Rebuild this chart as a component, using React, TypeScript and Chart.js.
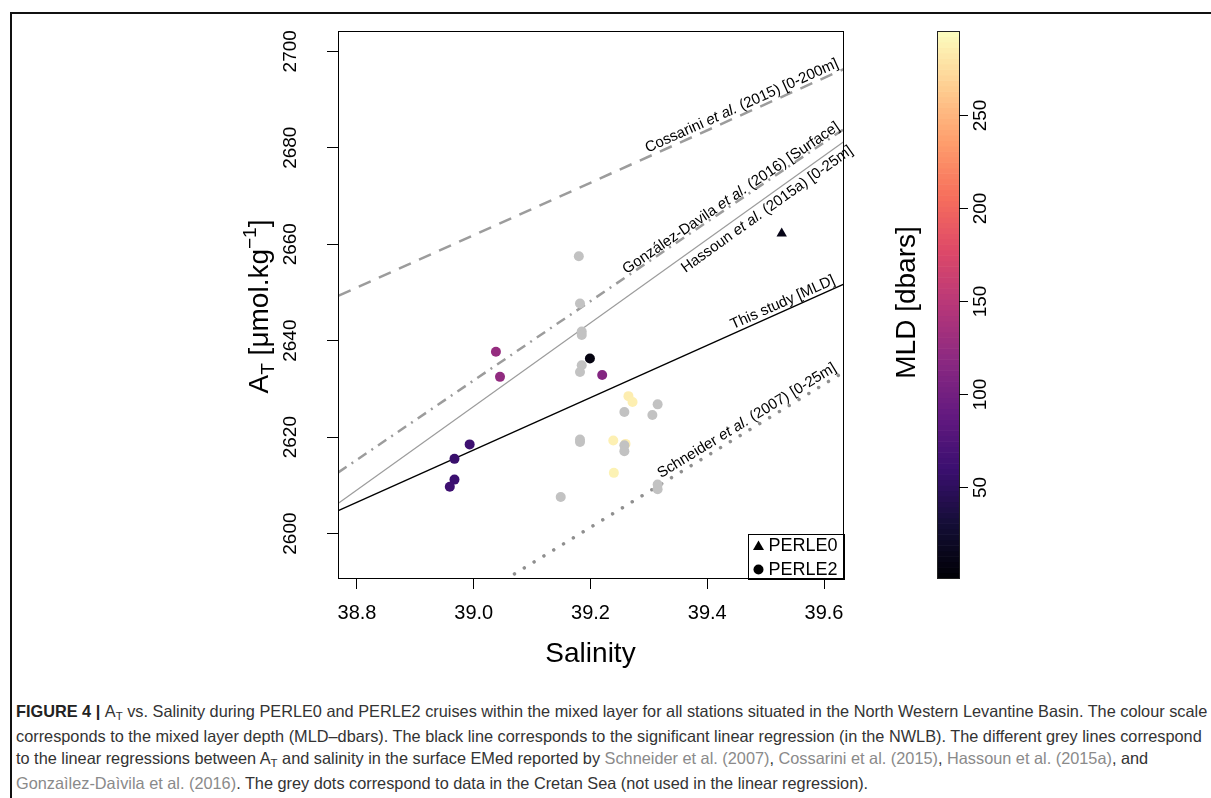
import React, { useEffect, useRef, useMemo } from "react";
import { Chart, registerables } from "chart.js";

Chart.register(...registerables);

// ---------------- data ----------------
const xTickValues = [38.8, 39.0, 39.2, 39.4, 39.6];
const yTickValues = [2600, 2620, 2640, 2660, 2680, 2700];
const mldTickValues = [50, 100, 150, 200, 250];
const xRange = [38.7675, 39.6325];
const yRange = [2590.8, 2704.2];
const mldRange = [1, 295];

// PERLE2 stations (NWLB), coloured by MLD
const perle2Salinity = [39.038, 39.045, 39.199, 39.22, 38.993, 38.967, 38.967, 38.959, 39.265, 39.272, 39.239, 39.26, 39.24];
const perle2AT = [2637.7, 2632.5, 2636.3, 2632.9, 2618.5, 2615.5, 2611.2, 2609.7, 2628.5, 2627.3, 2619.3, 2618.6, 2612.6];
const perle2MLD = [125, 122, 8, 112, 62, 58, 60, 62, 285, 286, 287, 285, 288];

// PERLE0 station
const perle0Salinity = [39.5275];
const perle0AT = [2662.2];
const perle0MLD = [12];

// Cretan Sea (grey dots)
const cretanSalinity = [39.18, 39.182, 39.185, 39.185, 39.185, 39.182, 39.258, 39.315, 39.306, 39.182, 39.182, 39.258, 39.258, 39.149, 39.315, 39.315];
const cretanAT = [2657.5, 2647.7, 2641.9, 2641.2, 2634.9, 2633.5, 2625.2, 2626.8, 2624.6, 2619.5, 2619.0, 2618.3, 2617.1, 2607.6, 2610.2, 2609.2];

// Regression lines (AT at the two salinity ends)
const lineSalinityEnds = [38.7, 39.7];
const cossariniAT = [2645.6, 2699.9];
const gonzalezAT = [2607.1, 2689.3];
const hassounAT = [2600.4, 2687.0];
const thisStudyAT = [2601.1, 2655.3];
const schneiderAT = [2564.2, 2638.4];

const legendLabels = ["PERLE0", "PERLE2"];

// ---------------- styles ----------------
const FONT = '"Liberation Sans", Arial, Helvetica, sans-serif';

const magmaStops = ["#000004", "#140E36", "#3B0F70", "#641A80", "#8C2981", "#B73779", "#DE4968", "#F7705C", "#FE9F6D", "#FECF92", "#FCFDBF"];
function hexRgb(h: string) {
  return [parseInt(h.slice(1, 3), 16), parseInt(h.slice(3, 5), 16), parseInt(h.slice(5, 7), 16)];
}
function magma(t: number) {
  t = Math.max(0, Math.min(1, t));
  const p = t * (magmaStops.length - 1);
  const i = Math.min(Math.floor(p), magmaStops.length - 2);
  const f = p - i;
  const a = hexRgb(magmaStops[i]);
  const b = hexRgb(magmaStops[i + 1]);
  const c = a.map((v, k) => Math.round(v + (b[k] - v) * f));
  return `rgb(${c[0]},${c[1]},${c[2]})`;
}
function mldColor(v: number) {
  return magma((v - mldRange[0]) / (mldRange[1] - mldRange[0]));
}

type Seg = [string, boolean];
const lineSpecs = [
  { at: cossariniAT, color: "#9c9c9c", width: 2.5, dash: [13, 9], cap: "butt",
    label: [["Cossarini ", false], ["et al.", true], [" (2015) [0-200m]", false]] as Seg[], anchorS: 39.629, off: 4 },
  { at: gonzalezAT, color: "#9c9c9c", width: 2.5, dash: [10, 6, 2, 6], cap: "butt",
    label: [["González-Davila ", false], ["et al.", true], [" (2016) [Surface]", false]] as Seg[], anchorS: 39.63, off: 2 },
  { at: hassounAT, color: "#9c9c9c", width: 1.2, dash: [], cap: "butt",
    label: [["Hassoun ", false], ["et al.", true], [" (2015a) [0-25m]", false]] as Seg[], anchorS: 39.636, off: -3 },
  { at: thisStudyAT, color: "#000000", width: 1.3, dash: [], cap: "butt",
    label: [["This study [MLD]", false]] as Seg[], anchorS: 39.623, off: 4 },
  { at: schneiderAT, color: "#8f8f8f", width: 3.5, dash: [0.01, 11.5], cap: "round",
    label: [["Schneider ", false], ["et al.", true], [" (2007) [0-25m]", false]] as Seg[], anchorS: 39.627, off: 5 },
];

// ---------------- plugin ----------------
const decorPlugin = {
  id: "decor",
  afterDatasetsDraw(chart: any) {
    const ctx: CanvasRenderingContext2D = chart.ctx;
    const ca = chart.chartArea;
    const xs = chart.scales.x;
    const ys = chart.scales.y;
    const cb = chart.scales.cb;
    ctx.save();

    // line labels
    const lblSize = 15;
    lineSpecs.forEach((ls) => {
      const p1x = xs.getPixelForValue(lineSalinityEnds[0]);
      const p1y = ys.getPixelForValue(ls.at[0]);
      const p2x = xs.getPixelForValue(lineSalinityEnds[1]);
      const p2y = ys.getPixelForValue(ls.at[1]);
      const ang = Math.atan2(p2y - p1y, p2x - p1x);
      const a = ls.at[0] + ((ls.at[1] - ls.at[0]) * (ls.anchorS - lineSalinityEnds[0])) / (lineSalinityEnds[1] - lineSalinityEnds[0]);
      const px = xs.getPixelForValue(ls.anchorS);
      const py = ys.getPixelForValue(a);
      ctx.save();
      ctx.translate(px, py);
      ctx.rotate(ang);
      let baseY: number;
      if (ls.off >= 0) {
        ctx.textBaseline = "alphabetic";
        baseY = -ls.off;
      } else {
        ctx.textBaseline = "top";
        baseY = -ls.off;
      }
      ctx.fillStyle = "#000";
      ctx.textAlign = "left";
      let total = 0;
      ls.label.forEach(([t, it]) => {
        ctx.font = `${it ? "italic " : ""}${lblSize}px ${FONT}`;
        total += ctx.measureText(t).width;
      });
      let x = -total;
      ls.label.forEach(([t, it]) => {
        ctx.font = `${it ? "italic " : ""}${lblSize}px ${FONT}`;
        ctx.fillText(t, x, baseY);
        x += ctx.measureText(t).width;
      });
      ctx.restore();
    });

    // plot box
    ctx.strokeStyle = "#000";
    ctx.lineWidth = 1;
    ctx.strokeRect(Math.round(ca.left) + 0.5, Math.round(ca.top) + 0.5, Math.round(ca.right - ca.left), Math.round(ca.bottom - ca.top));

    // y tick labels (parallel to axis)
    ctx.fillStyle = "#000";
    ctx.font = `19px ${FONT}`;
    ctx.textAlign = "center";
    ctx.textBaseline = "middle";
    yTickValues.forEach((v) => {
      const y = ys.getPixelForValue(v);
      ctx.save();
      ctx.translate(ca.left - 47, y);
      ctx.rotate(-Math.PI / 2);
      ctx.fillText(String(v), 0, 0);
      ctx.restore();
    });

    // x title
    ctx.font = `28px ${FONT}`;
    ctx.textAlign = "center";
    ctx.textBaseline = "middle";
    ctx.fillText("Salinity", (ca.left + ca.right) / 2, ca.bottom + 76);

    // y title: A_T [µmol.kg^-1]
    {
      const segs: { t: string; s: number; dy: number }[] = [
        { t: "A", s: 28, dy: 0 },
        { t: "T", s: 19, dy: 6 },
        { t: " [\u03BCmol.kg", s: 28, dy: 0 },
        { t: "\u22121", s: 19, dy: -12 },
        { t: "]", s: 28, dy: 0 },
      ];
      ctx.save();
      ctx.translate(ca.left - 80, (ca.top + ca.bottom) / 2 + 2);
      ctx.rotate(-Math.PI / 2);
      ctx.textAlign = "left";
      ctx.textBaseline = "alphabetic";
      let tot = 0;
      segs.forEach((g) => {
        ctx.font = `${g.s}px ${FONT}`;
        tot += ctx.measureText(g.t).width;
      });
      let x = -tot / 2;
      segs.forEach((g) => {
        ctx.font = `${g.s}px ${FONT}`;
        ctx.fillText(g.t, x, 10 + g.dy);
        x += ctx.measureText(g.t).width;
      });
      ctx.restore();
    }

    // legend box
    {
      const bx = ca.right - 95.5;
      const by = ca.bottom - 44.5;
      ctx.fillStyle = "#fff";
      ctx.fillRect(bx, by, ca.right - bx, ca.bottom - by);
      ctx.strokeStyle = "#000";
      ctx.lineWidth = 1;
      ctx.strokeRect(Math.round(bx) + 0.5, Math.round(by) + 0.5, Math.round(ca.right - bx), Math.round(ca.bottom - by));
      const mx = bx + 11;
      const r1 = by + 12;
      const r2 = by + 36;
      ctx.fillStyle = "#000";
      ctx.beginPath();
      ctx.moveTo(mx, r1 - 5);
      ctx.lineTo(mx + 5.5, r1 + 4.5);
      ctx.lineTo(mx - 5.5, r1 + 4.5);
      ctx.closePath();
      ctx.fill();
      ctx.beginPath();
      ctx.arc(mx, r2, 5, 0, Math.PI * 2);
      ctx.fill();
      ctx.font = `18px ${FONT}`;
      ctx.textAlign = "left";
      ctx.textBaseline = "middle";
      ctx.fillText(legendLabels[0], bx + 21, r1 + 1);
      ctx.fillText(legendLabels[1], bx + 21, r2 + 1);
    }

    // colour bar
    {
      const barL = ca.right + 94;
      const barW = 22;
      const n = 100;
      for (let i = 0; i < n; i++) {
        const v0 = mldRange[0] + ((mldRange[1] - mldRange[0]) * i) / n;
        const v1 = mldRange[0] + ((mldRange[1] - mldRange[0]) * (i + 1)) / n;
        const y0 = cb.getPixelForValue(v0);
        const y1 = cb.getPixelForValue(v1);
        ctx.fillStyle = mldColor((v0 + v1) / 2);
        ctx.fillRect(barL, y1, barW, y0 - y1 + 0.6);
      }
      ctx.strokeStyle = "#222";
      ctx.lineWidth = 1;
      const top = cb.getPixelForValue(mldRange[1]);
      const bot = cb.getPixelForValue(mldRange[0]);
      ctx.strokeRect(Math.round(barL) + 0.5, Math.round(top) + 0.5, barW, Math.round(bot - top));
      ctx.fillStyle = "#000";
      ctx.strokeStyle = "#000";
      ctx.font = `19px ${FONT}`;
      ctx.textAlign = "center";
      ctx.textBaseline = "middle";
      mldTickValues.forEach((v) => {
        const y = Math.round(cb.getPixelForValue(v)) + 0.5;
        ctx.beginPath();
        ctx.moveTo(barL + barW, y);
        ctx.lineTo(barL + barW + 9, y);
        ctx.stroke();
        ctx.save();
        ctx.translate(barL + barW + 22, y);
        ctx.rotate(-Math.PI / 2);
        ctx.fillText(String(v), 0, 0);
        ctx.restore();
      });
      // title
      ctx.save();
      ctx.translate(ca.right + 64, (ca.top + ca.bottom) / 2 - 2);
      ctx.rotate(-Math.PI / 2);
      ctx.font = `28px ${FONT}`;
      ctx.textAlign = "center";
      ctx.textBaseline = "middle";
      ctx.fillText("MLD [dbars]", 0, 0);
      ctx.restore();
    }

    ctx.restore();
  },
};

// ---------------- caption ----------------
type CapSeg = { t: string; b?: boolean; g?: boolean; sub?: boolean };
const captionLines: CapSeg[][] = [
  [
    { t: "FIGURE 4 | ", b: true },
    { t: "A" },
    { t: "T", sub: true },
    { t: " vs. Salinity during PERLE0 and PERLE2 cruises within the mixed layer for all stations situated in the North Western Levantine Basin. The colour scale" },
  ],
  [
    { t: "corresponds to the mixed layer depth (MLD\u2013dbars). The black line corresponds to the significant linear regression (in the NWLB). The different grey lines correspond" },
  ],
  [
    { t: "to the linear regressions between A" },
    { t: "T", sub: true },
    { t: " and salinity in the surface EMed reported by " },
    { t: "Schneider et al. (2007)", g: true },
    { t: ", " },
    { t: "Cossarini et al. (2015)", g: true },
    { t: ", " },
    { t: "Hassoun et al. (2015a)", g: true },
    { t: ", and" },
  ],
  [
    { t: "Gonza\u00EClez-Da\u00ECvila et al. (2016)", g: true },
    { t: ". The grey dots correspond to data in the Cretan Sea (not used in the linear regression)." },
  ],
];

const CAP_LEFT = 16;
const CAP_RIGHT = 1208;

export default function App() {
  const canvasRef = useRef<HTMLCanvasElement>(null);

  const capSize = useMemo(() => {
    const c = document.createElement("canvas").getContext("2d")!;
    let w = 0;
    captionLines[0].forEach((s) => {
      const sz = s.sub ? 70 : 100;
      c.font = `${s.b ? "bold " : ""}${sz}px ${FONT}`;
      w += c.measureText(s.t).width;
    });
    return (100 * (CAP_RIGHT - CAP_LEFT)) / w;
  }, []);

  useEffect(() => {
    Chart.defaults.font.family = FONT;
    const lineDatasets = lineSpecs.map((ls, i) => ({
      label: "line" + i,
      data: lineSalinityEnds.map((s, k) => ({ x: s, y: ls.at[k] })),
      showLine: true,
      borderColor: ls.color,
      borderWidth: ls.width,
      borderDash: ls.dash,
      borderCapStyle: ls.cap,
      pointRadius: 0,
      fill: false,
      tension: 0,
      order: 3,
    }));
    const chart = new Chart(canvasRef.current!, {
      type: "scatter",
      data: {
        datasets: [
          {
            label: "Cretan",
            data: cretanSalinity.map((s, i) => ({ x: s, y: cretanAT[i] })),
            pointRadius: 5,
            pointBackgroundColor: "#C2C2C2",
            pointBorderWidth: 0,
            borderWidth: 0,
            order: 0,
          },
          {
            label: "PERLE2",
            data: perle2Salinity.map((s, i) => ({ x: s, y: perle2AT[i] })),
            pointRadius: 5,
            pointBackgroundColor: perle2MLD.map(mldColor),
            pointBorderWidth: 0,
            borderWidth: 0,
            order: 1,
          },
          {
            label: "PERLE0",
            data: perle0Salinity.map((s, i) => ({ x: s, y: perle0AT[i] })),
            pointStyle: "triangle",
            pointRadius: 6,
            pointBackgroundColor: perle0MLD.map(mldColor),
            pointBorderWidth: 0,
            borderWidth: 0,
            order: 1,
          },
          ...lineDatasets,
        ] as any,
      },
      options: {
        responsive: false,
        animation: false,
        events: [],
        layout: { padding: { left: 258, right: 168, top: 31, bottom: 52 } },
        plugins: { legend: { display: false }, tooltip: { enabled: false } },
        scales: {
          x: {
            type: "linear",
            min: xRange[0],
            max: xRange[1],
            afterBuildTicks: (s: any) => {
              s.ticks = xTickValues.map((v) => ({ value: v }));
            },
            afterFit: (s: any) => {
              s.height = 60;
            },
            ticks: {
              color: "#000",
              font: { size: 20, family: FONT },
              padding: 12,
              maxRotation: 0,
              autoSkip: false,
              callback: (v: any) => Number(v).toFixed(1),
            },
            grid: { drawOnChartArea: false, drawTicks: true, tickLength: 11, tickColor: "#000", color: "#000" },
            border: { display: false },
          },
          y: {
            type: "linear",
            min: yRange[0],
            max: yRange[1],
            afterBuildTicks: (s: any) => {
              s.ticks = yTickValues.map((v) => ({ value: v }));
            },
            afterFit: (s: any) => {
              s.width = 80;
            },
            ticks: { display: false },
            grid: { drawOnChartArea: false, drawTicks: true, tickLength: 11, tickColor: "#000", color: "#000" },
            border: { display: false },
          },
          cb: {
            type: "linear",
            position: "right",
            min: mldRange[0],
            max: mldRange[1],
            afterFit: (s: any) => {
              s.width = 200;
            },
            ticks: { display: false },
            grid: { display: false },
            border: { display: false },
          },
        } as any,
      },
      plugins: [decorPlugin],
    });
    return () => chart.destroy();
  }, []);

  return (
    <div style={{ position: "absolute", left: 0, top: 0, width: 1211, height: 798, background: "#fff", overflow: "hidden" }}>
      <div
        style={{
          position: "absolute",
          left: 10,
          top: 12,
          width: 1211,
          height: 800,
          borderTop: "2px solid #111",
          borderLeft: "2px solid #111",
        }}
      />
      <canvas ref={canvasRef} width={1211} height={690} style={{ position: "absolute", left: 0, top: 0 }} />
      <div
        style={{
          position: "absolute",
          left: CAP_LEFT,
          top: 700,
          fontFamily: FONT,
          fontSize: capSize,
          lineHeight: "22.5px",
          color: "#333",
          whiteSpace: "nowrap",
        }}
      >
        {captionLines.map((line, li) => (
          <div key={li}>
            {line.map((s, si) =>
              s.sub ? (
                <span key={si} style={{ fontSize: "0.7em", position: "relative", top: "0.3em" }}>
                  {s.t}
                </span>
              ) : (
                <span key={si} style={{ fontWeight: s.b ? 700 : 400, color: s.g ? "#8a8a8a" : s.b ? "#222" : "#333" }}>
                  {s.t}
                </span>
              )
            )}
          </div>
        ))}
      </div>
    </div>
  );
}
